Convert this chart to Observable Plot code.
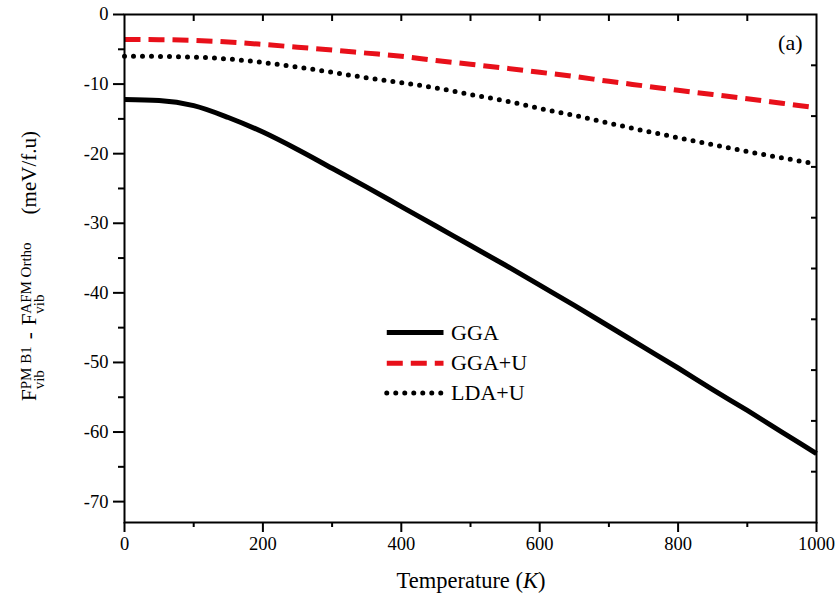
<!DOCTYPE html>
<html>
<head>
<meta charset="utf-8">
<script src="https://cdn.jsdelivr.net/npm/d3@7"></script>
<script src="https://cdn.jsdelivr.net/npm/@observablehq/plot@0.6"></script>
<style>
  html, body { margin: 0; padding: 0; background: white; }
  svg { display: block; }
</style>
</head>
<body>
<script>
// ---- Data ----
const temperature = [0, 50, 100, 150, 200, 250, 300, 350, 400, 450, 500, 550, 600, 650, 700, 750, 800, 850, 900, 950, 1000];
const gga    = [-12.2, -12.35, -13.1, -14.8, -16.9, -19.4, -22.1, -24.8, -27.6, -30.4, -33.2, -36.0, -38.9, -41.8, -44.8, -47.8, -50.8, -53.9, -56.9, -60.0, -63.1];
const ggaU   = [-3.6, -3.62, -3.72, -3.95, -4.3, -4.7, -5.1, -5.55, -6.0, -6.6, -7.15, -7.7, -8.3, -8.9, -9.6, -10.25, -10.9, -11.5, -12.1, -12.75, -13.4];
const ldaU   = [-6.0, -6.02, -6.12, -6.4, -6.9, -7.55, -8.3, -9.1, -9.8, -10.55, -11.5, -12.4, -13.5, -14.5, -15.6, -16.7, -17.7, -18.7, -19.7, -20.6, -21.5];

const seriesNames = ["GGA", "GGA+U", "LDA+U"];
const xMajorTicks = [0, 200, 400, 600, 800, 1000];
const xMinorTicks = [100, 300, 500, 700, 900];
const yMajorTicks = [0, -10, -20, -30, -40, -50, -60, -70];
const yMinorTicks = [-5, -15, -25, -35, -45, -55, -65];
const xDomain = [0, 1000];
const yDomain = [-73, 0];
const panelLabel = "(a)";

// legend placement (in data units)
const legendX = [379, 461];
const legendTextX = 472;
const legendY = [-45.7, -50.1, -54.4];

// ---- Tables built from the arrays ----
const styles = [
  {stroke: "black", strokeWidth: 5, strokeDasharray: null, strokeLinecap: "butt"},
  {stroke: "#e8101a", strokeWidth: 5, strokeDasharray: "16,8", strokeLinecap: "butt"},
  {stroke: "black", strokeWidth: 5, strokeDasharray: "0,9", strokeLinecap: "round"}
];
const values = [gga, ggaU, ldaU];
const curves = values.map(v => temperature.map((t, i) => ({T: t, F: v[i]})));
const legendSegs = seriesNames.map((n, i) => [{T: legendX[0], F: legendY[i]}, {T: legendX[1], F: legendY[i]}]);
const legendText = seriesNames.map((n, i) => ({T: legendTextX, F: legendY[i], name: n}));
// right axis: 10 equal divisions of the frame
const yRightTicks = d3.range(1, 10).map(k => yDomain[0] * k / 10);
const xTopTicks = d3.range(100, 1000, 100);

const font = "'Liberation Serif', 'Times New Roman', serif";

const lineMarks = curves.map((c, i) => Plot.line(c, {x: "T", y: "F", ...styles[i], curve: "monotone-x"}));
const legendMarks = legendSegs.map((c, i) => Plot.line(c, {x: "T", y: "F", ...styles[i]}));

const svg = Plot.plot({
  width: 840,
  height: 607,
  marginLeft: 124,
  marginRight: 24,
  marginTop: 14,
  marginBottom: 85,
  x: {domain: xDomain},
  y: {domain: yDomain},
  style: {fontFamily: font, fontSize: "18px", color: "black", background: "white"},
  marks: [
    ...lineMarks,
    ...legendMarks,
    Plot.text(legendText, {x: "T", y: "F", text: "name", textAnchor: "start", fontSize: 22, fill: "black"}),
    Plot.text([panelLabel], {frameAnchor: "top-right", textAnchor: "end", lineAnchor: "middle", dx: -14, dy: 28, fontSize: 22, fill: "black"}),
    Plot.axisX({ticks: xMajorTicks, tickSize: 10, tickPadding: 4, tickFormat: d => String(d), label: null, strokeWidth: 2, fontSize: 18.5}),
    Plot.axisX({ticks: xMinorTicks, tickSize: 5, tickFormat: () => "", label: null, strokeWidth: 2}),
    Plot.axisX({anchor: "top", ticks: xTopTicks, tickSize: -6, tickFormat: () => "", label: null, strokeWidth: 2}),
    Plot.axisY({ticks: yMajorTicks, tickSize: 11, tickPadding: 5, tickFormat: d => String(d), label: null, strokeWidth: 2, fontSize: 18.5}),
    Plot.axisY({ticks: yMinorTicks, tickSize: 6, tickFormat: () => "", label: null, strokeWidth: 2}),
    Plot.axisY({anchor: "right", ticks: yRightTicks, tickSize: -6, tickFormat: () => "", label: null, strokeWidth: 2}),
    Plot.frame({strokeWidth: 2, stroke: "black"})
  ]
});
document.body.append(svg);

const root = d3.select(svg);

// x-axis title
const xt = root.append("text")
  .attr("x", 471).attr("y", 588)
  .attr("text-anchor", "middle")
  .attr("font-family", font).attr("font-size", 22.5).attr("fill", "black");
xt.append("tspan").text("Temperature (");
xt.append("tspan").attr("font-style", "italic").text("K");
xt.append("tspan").text(")");

// y-axis title: F_vib^{PM B1} - F_vib^{AFM Ortho} (meV/f.u)
// one text chunk centred on the plot; dx/dy give the sub/superscript stacking
const mainSize = 21, scriptSize = 15;
const subDy = 8, supDy = -5;
const subWidth = 1.278 * scriptSize; // width of "vib" in a Times-metric font
const yt = root.append("text")
  .attr("transform", "translate(36,266) rotate(-90)")
  .attr("text-anchor", "middle")
  .attr("font-family", font).attr("font-size", mainSize).attr("fill", "black");
const yTitle = [
  {t: "F"},
  {t: "vib", size: scriptSize, dy: subDy},
  {t: "PM\u00a0B1", size: scriptSize, dx: -subWidth, dy: supDy - subDy},
  {t: "-", dx: 7, dy: -supDy},
  {t: "F", dx: 7},
  {t: "vib", size: scriptSize, dy: subDy},
  {t: "AFM\u00a0Ortho", size: scriptSize, dx: -subWidth, dy: supDy - subDy},
  {t: "(meV/f.u)", dx: 28, dy: -supDy}
];
yTitle.forEach(p => {
  const ts = yt.append("tspan").text(p.t);
  if (p.size) ts.attr("font-size", p.size);
  if (p.dx) ts.attr("dx", p.dx);
  if (p.dy) ts.attr("dy", p.dy);
});
</script>
</body>
</html>
